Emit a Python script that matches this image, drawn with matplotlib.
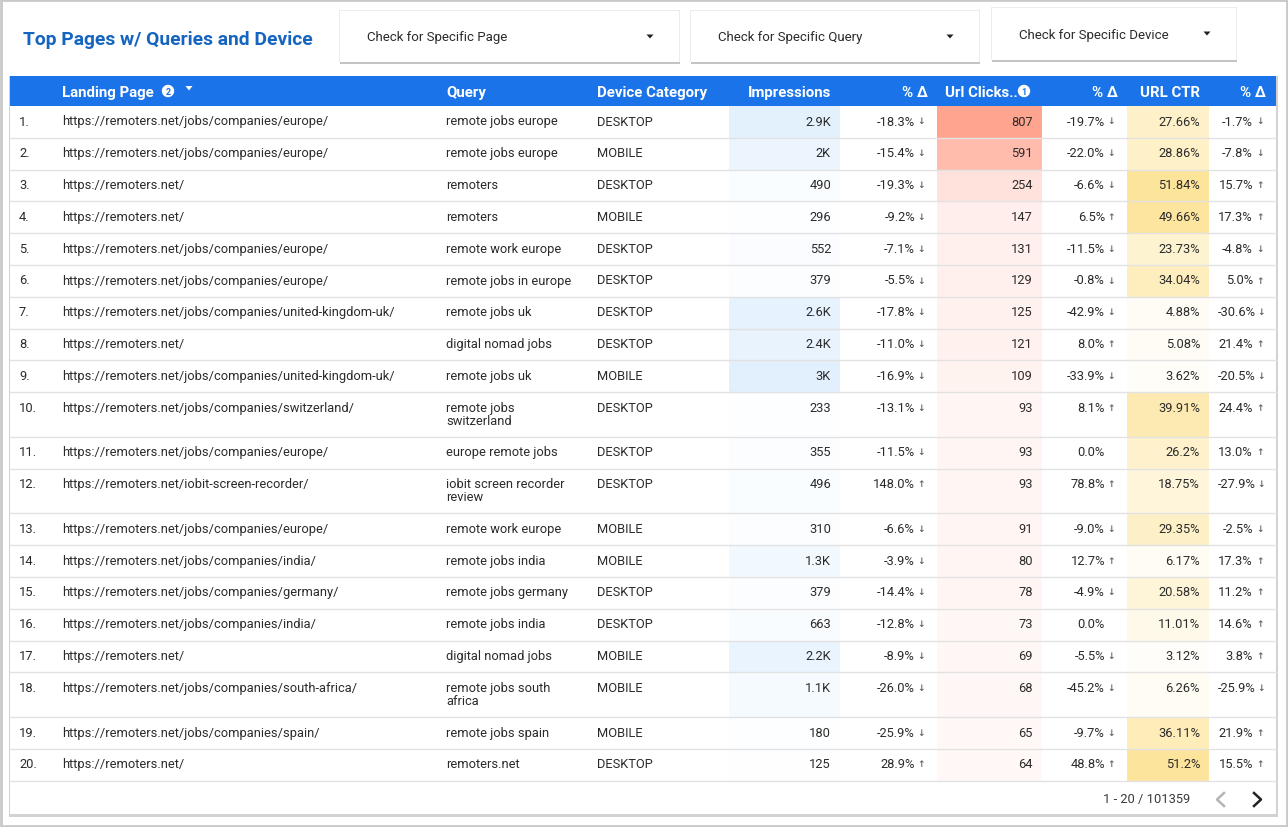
import matplotlib
matplotlib.use("Agg")
import matplotlib.pyplot as plt
from matplotlib.patches import Rectangle, Circle, Polygon

pages = ["https://remoters.net/jobs/companies/europe/", "https://remoters.net/jobs/companies/europe/",
         "https://remoters.net/", "https://remoters.net/",
         "https://remoters.net/jobs/companies/europe/", "https://remoters.net/jobs/companies/europe/",
         "https://remoters.net/jobs/companies/united-kingdom-uk/", "https://remoters.net/",
         "https://remoters.net/jobs/companies/united-kingdom-uk/", "https://remoters.net/jobs/companies/switzerland/",
         "https://remoters.net/jobs/companies/europe/", "https://remoters.net/iobit-screen-recorder/",
         "https://remoters.net/jobs/companies/europe/", "https://remoters.net/jobs/companies/india/",
         "https://remoters.net/jobs/companies/germany/", "https://remoters.net/jobs/companies/india/",
         "https://remoters.net/", "https://remoters.net/jobs/companies/south-africa/",
         "https://remoters.net/jobs/companies/spain/", "https://remoters.net/"]
queries = ["remote jobs europe", "remote jobs europe", "remoters", "remoters", "remote work europe",
           "remote jobs in europe", "remote jobs uk", "digital nomad jobs", "remote jobs uk",
           "remote jobs\nswitzerland", "europe remote jobs", "iobit screen recorder\nreview",
           "remote work europe", "remote jobs india", "remote jobs germany", "remote jobs india",
           "digital nomad jobs", "remote jobs south\nafrica", "remote jobs spain", "remoters.net"]
devices = ["DESKTOP", "MOBILE", "DESKTOP", "MOBILE", "DESKTOP", "DESKTOP", "DESKTOP", "DESKTOP", "MOBILE", "DESKTOP",
           "DESKTOP", "DESKTOP", "MOBILE", "MOBILE", "DESKTOP", "DESKTOP", "MOBILE", "MOBILE", "MOBILE", "DESKTOP"]
impressions = [2900, 2000, 490, 296, 552, 379, 2600, 2400, 3000, 233, 355, 496, 310, 1300, 379, 663, 2200, 1100, 180, 125]
impr_labels = ["2.9K", "2K", "490", "296", "552", "379", "2.6K", "2.4K", "3K", "233", "355", "496", "310", "1.3K",
               "379", "663", "2.2K", "1.1K", "180", "125"]
impr_delta = [-18.3, -15.4, -19.3, -9.2, -7.1, -5.5, -17.8, -11.0, -16.9, -13.1, -11.5, 148.0, -6.6, -3.9, -14.4,
              -12.8, -8.9, -26.0, -25.9, 28.9]
clicks = [807, 591, 254, 147, 131, 129, 125, 121, 109, 93, 93, 93, 91, 80, 78, 73, 69, 68, 65, 64]
clicks_delta = [-19.7, -22.0, -6.6, 6.5, -11.5, -0.8, -42.9, 8.0, -33.9, 8.1, 0.0, 78.8, -9.0, 12.7, -4.9, 0.0,
                -5.5, -45.2, -9.7, 48.8]
ctr_labels = ["27.66%", "28.86%", "51.84%", "49.66%", "23.73%", "34.04%", "4.88%", "5.08%", "3.62%", "39.91%",
              "26.2%", "18.75%", "29.35%", "6.17%", "20.58%", "11.01%", "3.12%", "6.26%", "36.11%", "51.2%"]
ctr_delta = [-1.7, -7.8, 15.7, 17.3, -4.8, 5.0, -30.6, 21.4, -20.5, 24.4, 13.0, -27.9, -2.5, 17.3, 11.2, 14.6, 3.8,
             -25.9, 21.9, 15.5]
filters = ["Check for Specific Page", "Check for Specific Query", "Check for Specific Device"]

plt.rcParams["font.family"] = ["Roboto", "DejaVu Sans"]
TXT = "#2b2b2b"
BLUE = "#1a73e8"

fig = plt.figure(figsize=(12.88, 8.28), dpi=100)
ax = fig.add_axes([0, 0, 1, 1])
ax.set_xlim(0, 1288)
ax.set_ylim(828, 0)
ax.axis("off")


def box(x0, y0, x1, y1, color, z=1, **kw):
    ax.add_patch(Rectangle((x0, y0), x1 - x0, y1 - y0, facecolor=color, edgecolor="none", zorder=z, **kw))


def shade(val, top, rgb):
    f = val / top
    return tuple((255 + (c - 255) * f) / 255 for c in rgb)


# outer frame
ax.add_patch(Rectangle((1, 1), 1286, 826, facecolor="white", edgecolor="#c9c9c9", lw=2, zorder=0))

# title and filter cards
ax.text(23, 40, "Top Pages w/ Queries and Device", color="#1565c0", fontsize=13.85, fontweight="bold", va="center")
cards = [(340, 12, 679, 63, 367, 37, 650), (691, 12, 979, 63, 718, 37, 950), (992, 9, 1236, 61, 1019, 34, 1207)]
for (x0, y0, x1, y1, tx, ty, ax_x), label in zip(cards, filters):
    box(x0, y0, x1 + 1, y1 + 2, "#c4c4c4", z=1)
    box(x0 - 1, y0 - 1, x1 + 1, y1, "#ececec", z=1)
    box(x0, y0, x1, y1, "white", z=2)
    ax.text(tx, ty + 1, label, color=TXT, fontsize=9.55, va="center", zorder=3)
    ax.add_patch(Polygon([(ax_x - 3.5, ty - 1.5), (ax_x + 3.5, ty - 1.5), (ax_x, ty + 2.5)], facecolor="#222222",
                         edgecolor="none", zorder=3))

# table card and header
box(9, 77, 1278, 818, "#d2d2d2", z=1)
box(10, 77, 1276, 815, "white", z=2)
box(10, 77, 1276, 107, BLUE, z=3)
hdr = dict(color="white", fontsize=10.8, fontweight="bold", va="center", zorder=4)
ax.text(62, 93, "Landing Page", **hdr)
ax.text(446, 93, "Query", **hdr)
ax.text(597, 93, "Device Category", **hdr)
ax.text(831, 93, "Impressions", ha="right", **hdr)
ax.text(928, 93, "% Δ", ha="right", **hdr)
ax.text(945, 93, "Url Clicks..", **hdr)
ax.text(1118, 93, "% Δ", ha="right", **hdr)
ax.text(1200, 93, "URL CTR", ha="right", **hdr)
ax.text(1266, 93, "% Δ", ha="right", **hdr)
for cx, num in [(168, "2"), (1024, "1")]:
    ax.add_patch(Circle((cx, 92), 5.5, color="white", zorder=4))
    ax.text(cx, 92.5, num, color=BLUE, fontsize=6.5, fontweight="bold", ha="center", va="center", zorder=5)
ax.add_patch(Polygon([(185.5, 87), (192.5, 87), (189, 91.5)], facecolor="white", edgecolor="none", zorder=4))


def delta_cell(val, right, arrow_x):
    ax.text(right, y, f"{val:.1f}%", color=TXT, fontsize=9.3, ha="right", va="center", zorder=6)
    if val != 0:
        ax.text(arrow_x, y, "↓" if val < 0 else "↑", color="#666666", fontsize=6.5, fontweight="bold",
                ha="center", va="center", zorder=6, family="DejaVu Sans")


# rows, two-line queries make the row taller
top = 107
for i in range(len(pages)):
    lines = queries[i].split("\n")
    h = 31.8 if len(lines) == 1 else 44.7
    bottom = top + h
    y = top + 15
    box(729, top, 840, bottom, shade(impressions[i], max(impressions), (226, 240, 253)), z=3)
    box(937, top, 1042, bottom, shade(clicks[i], max(clicks), (255, 164, 143)), z=3)
    ctr = float(ctr_labels[i].rstrip("%"))
    box(1127, top, 1209, bottom, shade(ctr, 51.84, (253, 228, 155)), z=3)
    ax.plot([10, 1276], [bottom, bottom], color="#e2e2e2", lw=1, zorder=4)

    ax.text(19, y, f"{i + 1}.", color=TXT, fontsize=9.3, va="center", zorder=6)
    ax.text(62.3, y, pages[i], color=TXT, fontsize=9.3, va="center", zorder=6)
    for k, line in enumerate(lines):
        ax.text(446, y + 13 * k, line, color=TXT, fontsize=9.3, va="center", zorder=6)
    ax.text(597, y, devices[i], color=TXT, fontsize=9.3, va="center", zorder=6)
    ax.text(831, y, impr_labels[i], color=TXT, fontsize=9.3, ha="right", va="center", zorder=6)
    delta_cell(impr_delta[i], 915, 921.5)
    ax.text(1033, y, str(clicks[i]), color=TXT, fontsize=9.3, ha="right", va="center", zorder=6)
    delta_cell(clicks_delta[i], 1105, 1111.5)
    ax.text(1200, y, ctr_labels[i], color=TXT, fontsize=9.3, ha="right", va="center", zorder=6)
    # the long negative values push against their arrow
    if ctr_delta[i] <= -10:
        delta_cell(ctr_delta[i], 1256, 1261)
    else:
        delta_cell(ctr_delta[i], 1253, 1260)
    top = bottom

# pagination
ax.text(1190, 800, "1 - 20 / 101359", color="#3a3a3a", fontsize=9.3, ha="right", va="center", zorder=6)
ax.plot([1224, 1217, 1224], [794, 800.5, 807], color="#b5b5b5", lw=1.8, zorder=6)
ax.plot([1254, 1261, 1254], [794, 800.5, 807], color="#222222", lw=1.8, zorder=6)

fig.savefig("out.png", dpi=100)
